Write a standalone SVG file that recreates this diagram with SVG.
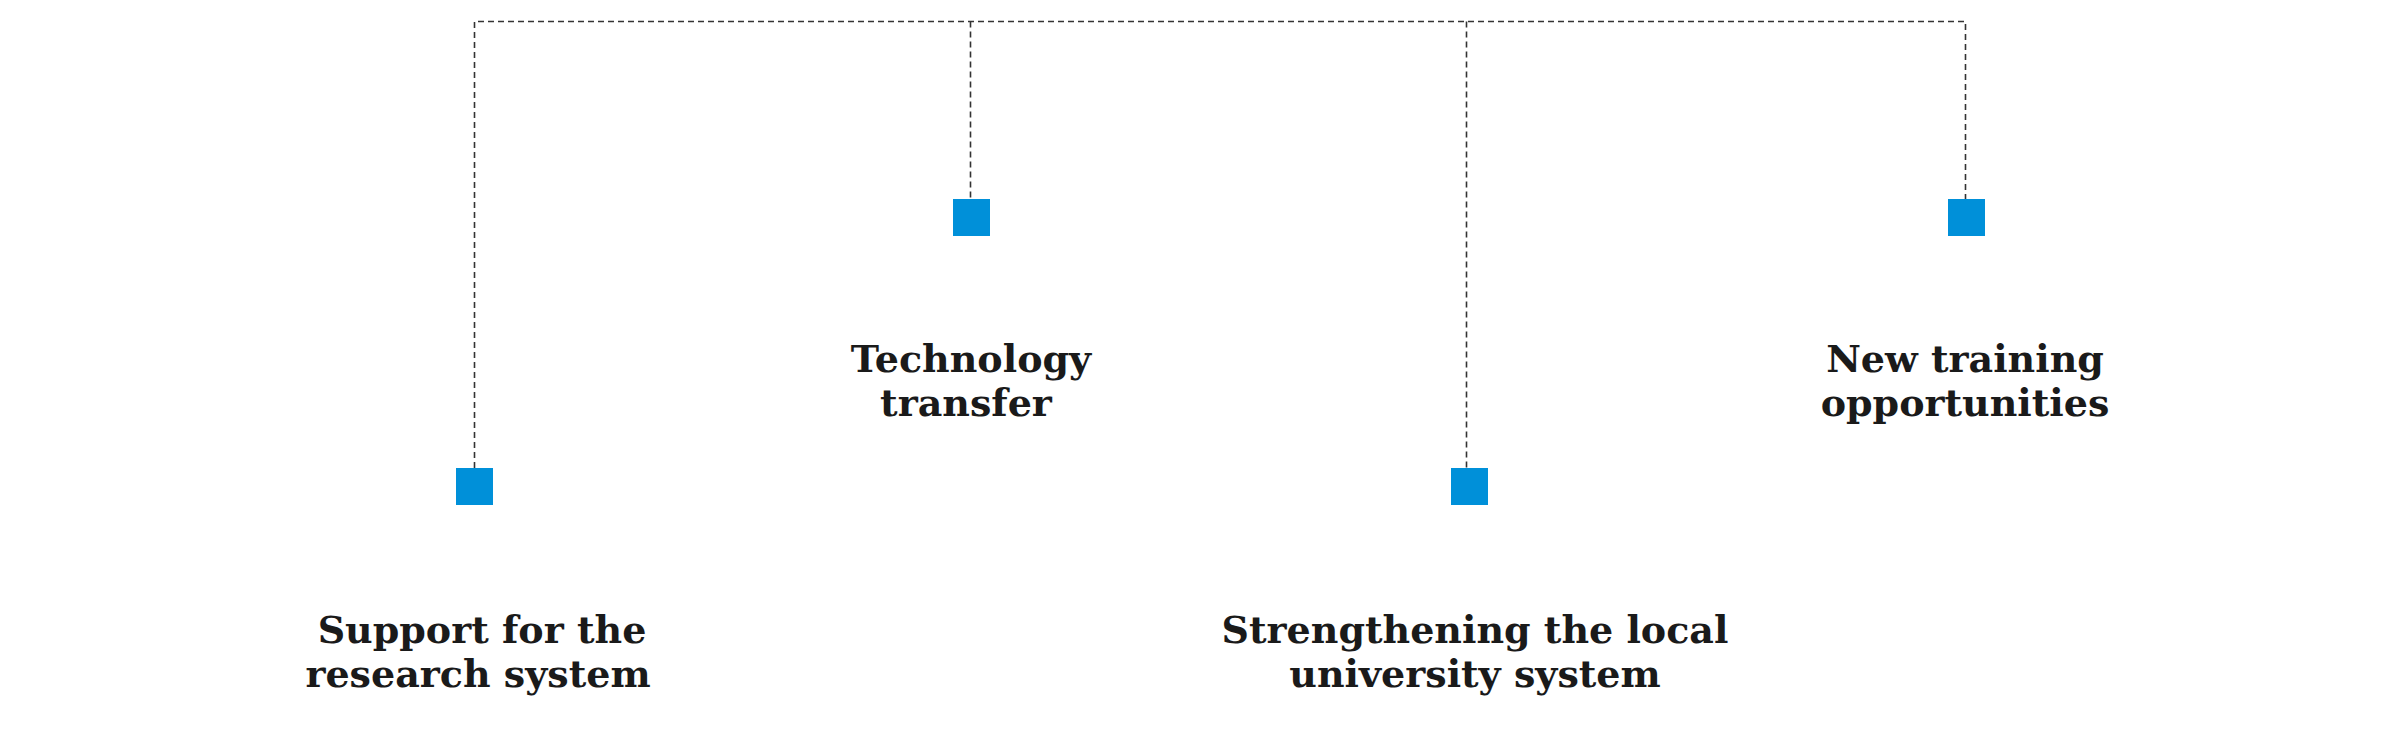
<svg xmlns="http://www.w3.org/2000/svg" width="2400" height="744" viewBox="0 0 2400 744">
<style>
.c{fill:none;stroke:#333;stroke-width:1.6;stroke-dasharray:6,4}
.n{fill:#0090D9}
.t{font-family:"DejaVu Serif","Liberation Serif",serif;font-size:38px;font-weight:600;fill:#1a1a1a;text-anchor:middle}
</style>
<rect width="2400" height="744" fill="#fff"/>
<g id="connectors">
<path class="c" d="M474.5 468V21.5H1965.5V199M970.5 21.5V199M1466.5 21.5V468"/>
</g>
<g id="n1"><rect class="n" x="456" y="468" width="37" height="37"/><text class="t" x="482" y="643">Support for the</text><text class="t" x="478" y="687">research system</text></g>
<g id="n2"><rect class="n" x="953" y="199" width="37" height="37"/><text class="t" x="971" y="372">Technology</text><text class="t" x="966" y="416">transfer</text></g>
<g id="n3"><rect class="n" x="1451" y="468" width="37" height="37"/><text class="t" x="1475" y="643">Strengthening the local</text><text class="t" x="1475" y="687">university system</text></g>
<g id="n4"><rect class="n" x="1948" y="199" width="37" height="37"/><text class="t" x="1965" y="372">New training</text><text class="t" x="1965" y="416">opportunities</text></g>
</svg>
